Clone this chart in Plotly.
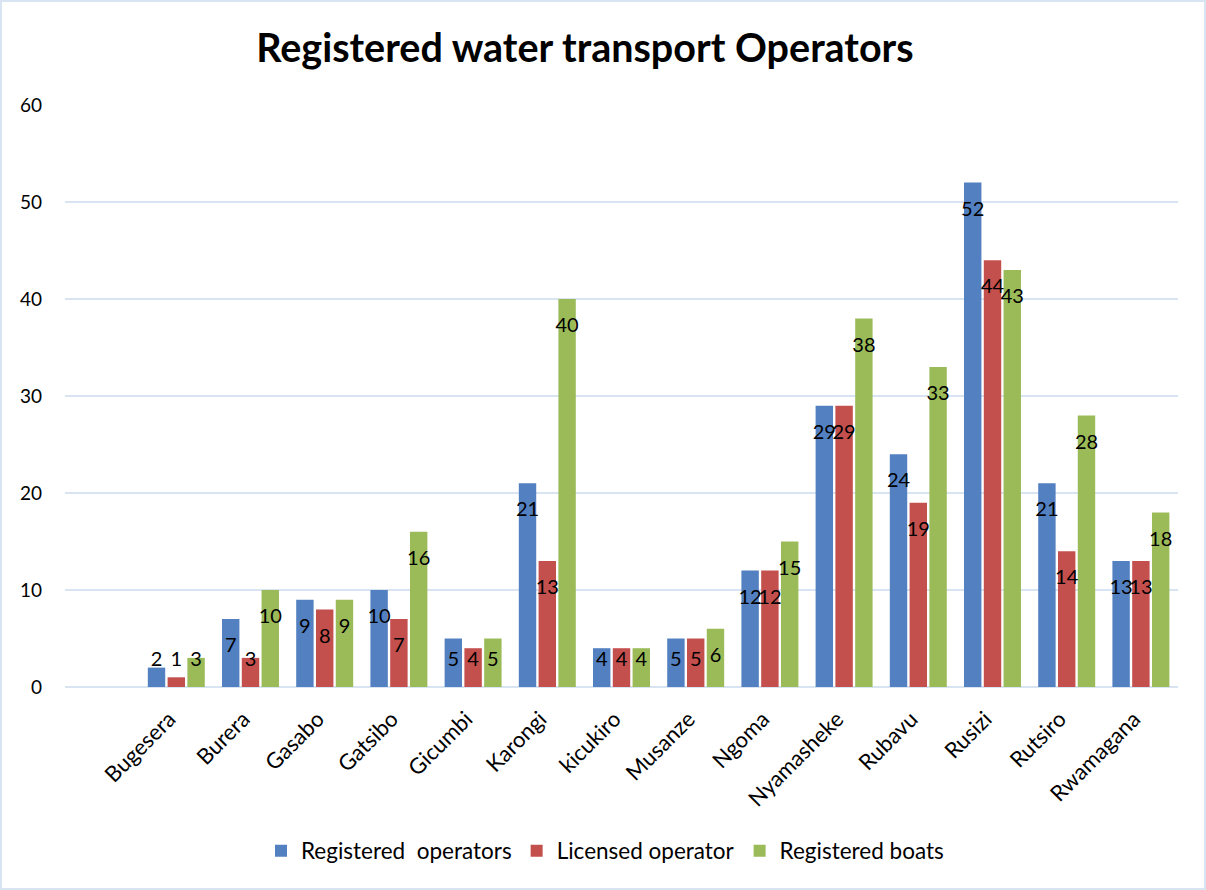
import plotly.graph_objects as go

categories = ["Bugesera", "Burera", "Gasabo", "Gatsibo", "Gicumbi", "Karongi", "kicukiro",
              "Musanze", "Ngoma", "Nyamasheke", "Rubavu", "Rusizi", "Rutsiro", "Rwamagana"]
registered_operators = [2, 7, 9, 10, 5, 21, 4, 5, 12, 29, 24, 52, 21, 13]
licensed_operator = [1, 3, 8, 7, 4, 13, 4, 5, 12, 29, 19, 44, 14, 13]
registered_boats = [3, 10, 9, 16, 5, 40, 4, 6, 15, 38, 33, 43, 28, 18]
y_ticks = [0, 10, 20, 30, 40, 50, 60]

series = [
    ("Registered  operators", registered_operators, "#5380c0"),
    ("Licensed operator", licensed_operator, "#c4504e"),
    ("Registered boats", registered_boats, "#9bbb59"),
]

FONT = "Lato, 'Open Sans', sans-serif"
L, R, T, B = 65, 28, 105, 203
PW, PH = 1206 - L - R, 890 - T - B

fig = go.Figure()
for i, (name, vals, color) in enumerate(series):
    fig.add_trace(go.Bar(
        x=categories, y=vals, name=name,
        marker=dict(color=color, line=dict(width=0)),
        offsetgroup=str(i), alignmentgroup="a",
        hoverinfo="x+y+name",
    ))
# data labels ("inside end" style, kept above the axis for short bars)
for i, (name, vals, color) in enumerate(series):
    fig.add_trace(go.Scatter(
        x=categories, y=[max(v - 2.9, 2.7) for v in vals],
        mode="text", text=[str(v) for v in vals],
        textposition="middle center",
        textfont=dict(color="black", size=20, family=FONT),
        offsetgroup=str(i), alignmentgroup="a",
        showlegend=False, hoverinfo="skip",
        cliponaxis=False,
    ))

fig.update_layout(
    width=1206, height=890,
    paper_bgcolor="white", plot_bgcolor="white",
    barmode="group", bargap=0.2, bargroupgap=0.12,
    scattermode="group", scattergap=0.2,
    margin=dict(l=L, r=R, t=T, b=B, autoexpand=False),
    font=dict(family=FONT, color="black"),
    title=dict(text="<b>Registered water transport Operators</b>",
               x=0.485, xanchor="center", y=0.946, yanchor="middle",
               xref="container", yref="container",
               font=dict(size=39.5, family=FONT, color="black")),
    legend=dict(orientation="h", x=(605 - L) / PW, xanchor="center",
                y=(T + PH - 851) / PH, yanchor="middle",
                font=dict(size=22.5, family=FONT), itemwidth=30,
                traceorder="normal"),
    xaxis=dict(type="category", range=[-1.5, 13.5], tickangle=-45,
               tickfont=dict(size=22, family=FONT), showgrid=False,
               showline=False, ticks="", automargin=False,
               ticklabelstandoff=14, ticklabelshift=-7),
    yaxis=dict(range=[0, 60], tickvals=y_ticks, showgrid=True,
               gridcolor="#d9e4f2", gridwidth=2, zeroline=True,
               zerolinecolor="#d9e4f2", zerolinewidth=2,
               tickfont=dict(size=19, family=FONT), ticklabelstandoff=22,
               showline=False, automargin=False),
    shapes=[dict(type="rect", xref="paper", yref="paper",
                 x0=-(L - 1) / PW, x1=1 + (R - 1) / PW,
                 y0=-(B - 1) / PH, y1=1 + (T - 1) / PH,
                 line=dict(color="#d9e4f2", width=2))],
)

fig.write_html("out.html", config={"displayModeBar": False},
               post_script="document.body.style.margin='0';document.body.style.overflow='hidden';")
